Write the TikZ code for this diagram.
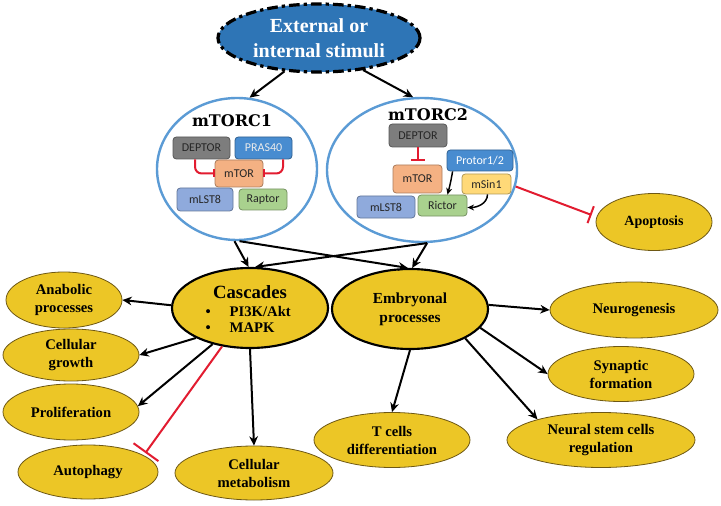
\documentclass[tikz,border=0pt]{standalone}
\usepackage{fontspec}
\setmainfont{Liberation Serif}
\setsansfont{Carlito}
\newfontfamily\slabfont{DejaVu Serif}
\usetikzlibrary{shapes.geometric,arrows.meta,calc}
\definecolor{stimblue}{RGB}{46,117,182}
\definecolor{gold}{RGB}{236,198,38}
\definecolor{goldedge}{RGB}{110,88,20}
\definecolor{ringblue}{RGB}{91,155,213}
\definecolor{dgray}{RGB}{125,125,125}
\definecolor{pblue}{RGB}{72,140,208}
\definecolor{salmon}{RGB}{244,177,131}
\definecolor{lblue}{RGB}{143,170,220}
\definecolor{lgreen}{RGB}{169,209,142}
\definecolor{lorange}{RGB}{255,217,120}
\definecolor{inhred}{RGB}{226,28,48}
\begin{document}
\begin{tikzpicture}[x=0.75pt,y=-0.75pt,
  yell/.style={ellipse, fill=gold, draw=goldedge, line width=0.6pt, inner sep=0pt, align=center, font=\bfseries\fontsize{11}{13.5}\selectfont},
  bigell/.style={ellipse, fill=gold, draw=black, line width=1.6pt, inner sep=0pt, align=center},
  ringell/.style={ellipse, draw=ringblue, line width=1.8pt, fill=white, inner sep=0pt},
  pbox/.style={fill=#1, draw=#1!70!black, rounded corners=2.5pt, line width=0.6pt, inner sep=0pt, font=\sffamily\fontsize{9}{10}\selectfont},
  arr/.style={-{Stealth[length=7pt,width=6.5pt]}, line width=1.5pt},
  carr/.style={-{Stealth[length=5pt,width=4.5pt]}, line width=1.1pt},
  inh/.style={-{Bar[width=#1]}, draw=inhred, line width=1.5pt},
  inh/.default=8pt,
  ttl/.style={font=\slabfont\bfseries\fontsize{12}{13}\selectfont}
]
\fill[white] (0,0) rectangle (721,506);
\useasboundingbox (0,0) rectangle (721,506);

% stimuli
\node[ellipse, fill=stimblue, draw=black, line width=2.4pt, dash pattern=on 8pt off 3pt on 2.5pt off 3pt,
      minimum width=151.5pt, minimum height=51pt, inner sep=0pt, align=center, text=white,
      font=\bfseries\fontsize{15}{18.75}\selectfont] (stim) at (319,38) {External or\\internal stimuli};

% complexes
\node[ringell, minimum width=120pt, minimum height=106.5pt] (c1) at (237,169) {};
\node[ringell, minimum width=142.5pt, minimum height=108pt] (c2) at (422,170) {};

\node[ttl] (t1) at (232,121) {mTORC1};
\node[ttl] (t2) at (428,115) {mTORC2};

% mTORC1 boxes
\node[pbox=dgray, minimum width=42.75pt, minimum height=16.5pt, text=black!85] (dep1) at (201.5,148) {DEPTOR};
\node[pbox=pblue, minimum width=42.75pt, minimum height=16.5pt, text=black!8] (pras) at (263.5,148) {PRAS40};
\node[pbox=salmon, minimum width=36pt, minimum height=20.25pt, text=black!85] (mtor1) at (239,173.5) {mTOR};
\node[pbox=lblue, minimum width=42pt, minimum height=17.25pt, text=black!85] (mlst1) at (205,199.5) {mLST8};
\node[pbox=lgreen, minimum width=36pt, minimum height=15.75pt, text=black!85] (rapt) at (263,199.5) {Raptor};
\draw[inh=6pt, rounded corners=5pt] ($(dep1.south)+(-6.5,0)$) |- (mtor1.west);
\draw[inh=6pt, rounded corners=5pt] ($(pras.south)+(19.5,0)$) |- (mtor1.east);

% mTORC2 boxes
\node[pbox=dgray, minimum width=43.5pt, minimum height=17.25pt, text=black!85] (dep2) at (418,135.5) {DEPTOR};
\node[pbox=pblue, minimum width=49.5pt, minimum height=15.75pt, text=white] (prot) at (480,160.5) {Protor1/2};
\node[pbox=salmon, minimum width=36.75pt, minimum height=21pt, text=black!85] (mtor2) at (417.5,179) {mTOR};
\node[pbox=lorange, minimum width=36.75pt, minimum height=15pt, text=black!85] (msin) at (486.5,184) {mSin1};
\node[pbox=lblue, minimum width=43.5pt, minimum height=16.5pt, text=black!85] (mlst2) at (386,207) {mLST8};
\node[pbox=lgreen, minimum width=36.75pt, minimum height=15.75pt, text=black!85] (rict) at (442.5,205.5) {Rictor};
\draw[inh=10pt, shorten >=3pt] (dep2.south) -- (dep2.south |- mtor2.north);
\draw[carr] ($(prot.south west)+(6,0)$) to[out=-100,in=75] ($(rict.north)+(5,0)$);
\draw[carr] ($(msin.south)+(1,0)$) to[out=-90,in=0] ($(rict.east)+(0,2)$);

% outcome ellipses
\node[yell, minimum width=87pt, minimum height=42.75pt, font=\bfseries\fontsize{10.5}{12}\selectfont] (apop) at (654,222) {Apoptosis};
\node[bigell, minimum width=117pt, minimum height=60pt] (casc) at (250,308) {};
\node[font=\bfseries\fontsize{14}{16}\selectfont] (casct) at (250,292) {Cascades};
\node[anchor=west, font=\bfseries\fontsize{11}{13}\selectfont] (b1) at (201,311) {\makebox[18pt][l]{\textbullet}PI3K/Akt};
\node[anchor=west, font=\bfseries\fontsize{11}{13}\selectfont] (b2) at (201,328) {\makebox[18pt][l]{\textbullet}MAPK};
\node[bigell, minimum width=117pt, minimum height=60pt, font=\bfseries\fontsize{11.5}{14}\selectfont] (emb) at (410,309) {Embryonal\\processes};

\node[yell, minimum width=87pt, minimum height=42pt] (anab) at (64,300) {Anabolic\\processes};
\node[yell, minimum width=102pt, minimum height=39pt] (grow) at (71,355) {Cellular\\growth};
\node[yell, minimum width=102pt, minimum height=42pt] (prol) at (71,412) {Proliferation};
\node[yell, minimum width=105pt, minimum height=40.5pt] (auto) at (88,472) {Autophagy};
\node[yell, minimum width=118.5pt, minimum height=40.5pt] (meta) at (254,473) {Cellular\\metabolism};
\node[yell, minimum width=117pt, minimum height=41.25pt] (tcel) at (392,440) {T cells\\differentiation};
\node[yell, minimum width=141pt, minimum height=41.25pt] (nsc) at (601,440) {Neural stem cells\\regulation};
\node[yell, minimum width=126pt, minimum height=42pt] (neur) at (634,310) {Neurogenesis};
\node[yell, minimum width=109.5pt, minimum height=41.25pt] (syn) at (621,374) {Synaptic\\formation};

% connectors
\draw[arr] (stim.-136) -- (c1.80);
\draw[arr] (stim.-36) -- (c2.97);
\draw[arr] (c1.-92) -- (casc.92);
\draw[arr] (c1.-88) -- (emb.93);
\draw[arr] (c2.-86) -- (casc.83);
\draw[arr] (c2.-86) -- (emb.87);
\draw[inh=13.5pt] (c2.-10) -- ($(apop.west)+(-4,-7)$);

\draw[arr] (casc.178) -- (anab.east);
\draw[arr] (casc.209) -- (grow.east);
\draw[arr] (casc.-136) -- (prol.5);
\draw[inh=23pt] (casc.-126) -- ($(auto.east)+(-13,-19)$);
\draw[arr] (casc.south) -- (meta.north);

\draw[arr] (emb.3) -- (neur.west);
\draw[arr] (emb.-15) -- (syn.west);
\draw[arr] (emb.-28) -- (nsc.162);
\draw[arr] (emb.south) -- (tcel.north);
\end{tikzpicture}
\end{document}
